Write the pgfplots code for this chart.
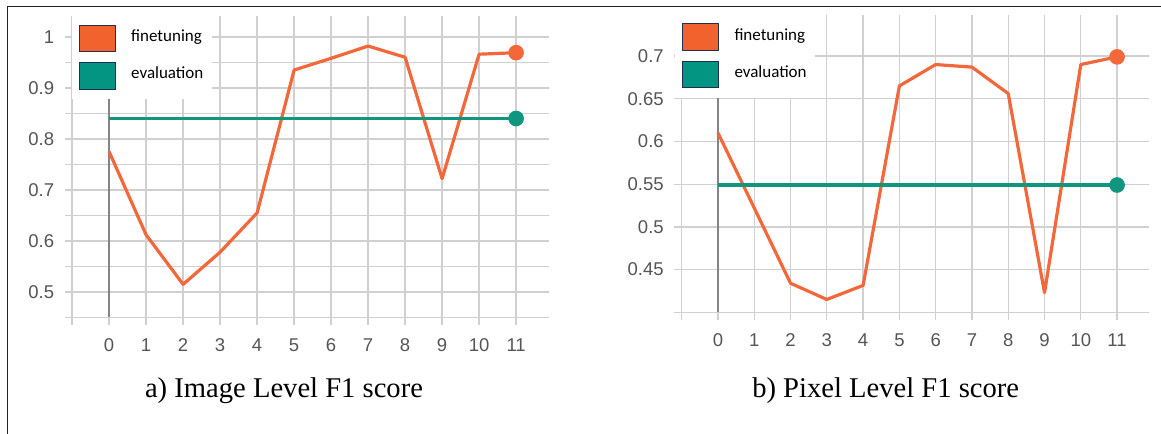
\documentclass[border=0pt]{standalone}
\usepackage{fontspec}
\setmainfont{Liberation Serif}
\newfontfamily\tickfont{Liberation Sans}
\newfontfamily\legfont{Carlito}
\usepackage{pgfplots}
\pgfplotsset{compat=1.18}
\definecolor{gridgray}{HTML}{D0D0D0}
\definecolor{labelgray}{HTML}{555555}
\definecolor{darkline}{HTML}{858585}
\definecolor{orangeline}{HTML}{F3683A}
\definecolor{tealline}{HTML}{10957F}
\definecolor{orangesq}{HTML}{F1622C}
\definecolor{tealsq}{HTML}{049482}
\definecolor{sqborder}{HTML}{1F2F4F}
\definecolor{framecol}{HTML}{222222}
\pgfplotsset{
  panel/.style={
    scale only axis, anchor=south west,
    axis line style={draw=none},
    tick pos=left,
    tick align=outside,
    major tick length=7.5bp, minor tick length=7.5bp,
    major tick style={gridgray, line width=1.3bp},
    minor tick style={gridgray, line width=1.3bp},
    grid=both,
    major grid style={gridgray, line width=1.3bp},
    minor grid style={gridgray, line width=1.3bp},
    ticklabel style={font=\tickfont\fontsize{18.5bp}{22bp}\selectfont, text=labelgray},
    /pgf/number format/assume math mode=true,
    yticklabel style={anchor=east, xshift=-7bp},
    xticklabel style={yshift=-10.5bp},
    legend style={draw=none, fill=white,
      font=\legfont\fontsize{17bp}{20bp}\selectfont,
      inner xsep=6.6bp, inner ysep=10bp, row sep=10bp,
      cells={anchor=base west},
      /tikz/every odd column/.append style={column sep=13.3bp},
      at={(0,1)}, anchor=north west},
  },
  sq/.style={legend image code/.code={\draw[fill=#1, draw=sqborder, line width=0.8bp] (0bp,-10bp) rectangle (36.6bp,16.6bp);}},
}
\begin{document}
\begin{tikzpicture}
\useasboundingbox (0,0) rectangle (1161bp,434bp);
\draw[line width=1.2bp, color=framecol] (7.4bp,0bp) -- (7.4bp,427.5bp) -- (1161bp,427.5bp);
% ---------- left panel
\begin{axis}[panel,
  at={(72.1bp,116.5bp)}, width=477.3bp, height=301.5bp,
  xmin=-1, xmax=11.9, ymin=0.45, ymax=1.0409,
  xtick={-1,0,1,2,3,4,5,6,7,8,9,10,11},
  xticklabels={,0,1,2,3,4,5,6,7,8,9,10,11},
  ytick={0.5,0.6,0.7,0.8,0.9,1},
  yticklabels={0.5,0.6,0.7,0.8,0.9,1},
  minor ytick={0.45,0.55,0.65,0.75,0.85,0.95},
  legend style={xshift=-0.4bp, yshift=1.6bp},
]
\addplot[draw=darkline, line width=1.8bp, forget plot] coordinates {(0,0.45) (0,1.0409)};
\addplot[draw=orangeline, line width=3.2bp, line join=round, mark=*, mark indices={12},
  mark size=6.2bp, mark options={fill=orangeline, draw=none}, sq=orangesq] coordinates {
  (0,0.775) (1,0.612) (2,0.515) (3,0.578) (4,0.655) (5,0.935)
  (6,0.958) (7,0.982) (8,0.960) (9,0.722) (10,0.966) (11,0.969)};
\addlegendentry{finetuning}
\addplot[draw=tealline, line width=3.2bp, mark=*, mark indices={2},
  mark size=6.2bp, mark options={fill=tealline, draw=none}, sq=tealsq] coordinates {
  (0,0.84) (11,0.84)};
\addlegendentry{evaluation}
\end{axis}
\node[font=\fontsize{28.6bp}{34bp}\selectfont, anchor=base] at (284bp,37bp) {a) Image Level F1 score};
% ---------- right panel
\begin{axis}[panel,
  at={(681.7bp,121.7bp)}, width=467.3bp, height=297.3bp,
  xmin=-1, xmax=11.88, ymin=0.4, ymax=0.748,
  xtick={-1,0,1,2,3,4,5,6,7,8,9,10,11},
  xticklabels={,0,1,2,3,4,5,6,7,8,9,10,11},
  ytick={0.4,0.45,0.5,0.55,0.6,0.65,0.7},
  yticklabels={,0.45,0.5,0.55,0.6,0.65,0.7},
  legend style={xshift=-6.7bp, yshift=1.7bp},
]
\addplot[draw=darkline, line width=1.8bp, forget plot] coordinates {(0,0.4) (0,0.748)};
\addplot[draw=orangeline, line width=3.2bp, line join=round, mark=*, mark indices={12},
  mark size=6.2bp, mark options={fill=orangeline, draw=none}, sq=orangesq] coordinates {
  (0,0.610) (1,0.522) (2,0.434) (3,0.415) (4,0.4315) (5,0.665)
  (6,0.690) (7,0.687) (8,0.656) (9,0.423) (10,0.690) (11,0.699)};
\addlegendentry{finetuning}
\addplot[draw=tealline, line width=3.2bp, mark=*, mark indices={2},
  mark size=6.2bp, mark options={fill=tealline, draw=none}, sq=tealsq] coordinates {
  (0,0.549) (11,0.549)};
\addlegendentry{evaluation}
\end{axis}
\node[font=\fontsize{28.6bp}{34bp}\selectfont, anchor=base] at (885.7bp,37bp) {b) Pixel Level F1 score};
\end{tikzpicture}
\end{document}
